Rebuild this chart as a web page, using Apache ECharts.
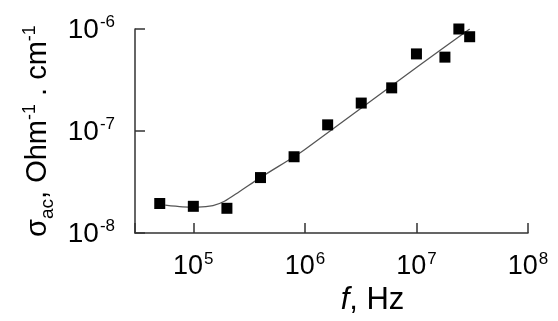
<!DOCTYPE html>
<html>
<head>
<meta charset="utf-8">
<script src="https://cdn.jsdelivr.net/npm/echarts@6/dist/echarts.min.js"></script>
<style>
  html, body { margin: 0; padding: 0; background: #fff; }
  #chart { width: 558px; height: 321px; }
</style>
</head>
<body>
<div id="chart"></div>
<script>
// measured points (f in Hz, sigma_ac in Ohm^-1 cm^-1)
const freqHz = [5e4, 1e5, 2e5, 4e5, 8e5, 1.6e6, 3.2e6, 6e6, 1e7, 1.8e7, 2.4e7, 3e7];
const sigmaAc = [1.95e-8, 1.83e-8, 1.75e-8, 3.5e-8, 5.6e-8, 1.15e-7, 1.88e-7, 2.65e-7, 5.7e-7, 5.3e-7, 1.0e-6, 8.4e-7];

// fitted curve
const fitFreq = [5.6e4, 8e4, 1.1e5, 1.5e5, 1.9e5, 2.6e5, 4e5, 8e5, 1e6, 1e7, 3e7];
const fitSigma = [1.88e-8, 1.81e-8, 1.8e-8, 1.86e-8, 2.05e-8, 2.56e-8, 3.5e-8, 5.6e-8, 6.6e-8, 4.2e-7, 1.0e-6];

const xMin = 3e4, xMax = 1e8;
const yMin = 1e-8, yMax = 1e-6;

const FONT = "'Liberation Sans', Arial, sans-serif";

const chart = echarts.init(document.getElementById("chart"));

// label "10" with superscript exponent, only on whole decades
const powLabel = (v) => {
  const lg = Math.log10(v);
  const e = Math.round(lg);
  if (Math.abs(lg - e) > 1e-6) return "";
  return "{b|10}{s|" + (e < 0 ? "-" + Math.abs(e) : e) + "}";
};

const labelRich = (size) => ({
  b: { fontSize: size, fontFamily: FONT, color: "#000", lineHeight: size + 2, verticalAlign: "bottom" },
  s: { fontSize: Math.round(size * 0.62), fontFamily: FONT, color: "#000", lineHeight: size + 2, verticalAlign: "top", padding: [0, 0, 0, 1] },
});

const axisCommon = {
  type: "log",
  logBase: 10,
  axisLine: { show: true, lineStyle: { color: "#333", width: 1.5 } },
  axisTick: { show: true, inside: true, length: 10, lineStyle: { color: "#333", width: 1.5 } },
  minorTick: { show: false },
  splitLine: { show: false },
};

const option = {
  backgroundColor: "#fff",
  animation: false,
  grid: { left: 135, right: 30, top: 29, bottom: 86 },
  xAxis: {
    ...axisCommon,
    min: xMin,
    max: xMax,
    axisLabel: { formatter: powLabel, margin: 18, rich: labelRich(27) },
    name: "{i|f}{t|, Hz}",
    nameLocation: "middle",
    nameGap: 46,
    nameTextStyle: {
      padding: [0, 0, 0, 82],
      rich: {
        i: { fontSize: 31, fontStyle: "italic", fontFamily: FONT, color: "#000" },
        t: { fontSize: 31, fontFamily: FONT, color: "#000" },
      },
    },
  },
  yAxis: {
    ...axisCommon,
    min: yMin,
    max: yMax,
    axisLabel: { formatter: powLabel, margin: 20, rich: labelRich(28) },
    name: "{t|σ}{sub|ac}{t|, Ohm}{sup|-1}{t| . cm}{sup|-1}",
    nameLocation: "middle",
    nameRotate: 90,
    nameGap: 80,
    nameTextStyle: {
      rich: {
        t: { fontSize: 29, fontFamily: FONT, color: "#000", lineHeight: 32, verticalAlign: "bottom" },
        sub: { fontSize: 19, fontFamily: FONT, color: "#000", lineHeight: 32, verticalAlign: "bottom", padding: [0, 0, -4, 0] },
        sup: { fontSize: 18, fontFamily: FONT, color: "#000", lineHeight: 32, verticalAlign: "top" },
      },
    },
  },
  series: [
    {
      name: "fit",
      type: "line",
      data: fitFreq.map((f, i) => [f, fitSigma[i]]),
      smooth: 0.3,
      showSymbol: false,
      symbol: "none",
      lineStyle: { color: "#555", width: 1.3 },
      z: 1,
    },
    {
      name: "sigma",
      type: "scatter",
      data: freqHz.map((f, i) => [f, sigmaAc[i]]),
      symbol: "rect",
      symbolSize: 11,
      itemStyle: { color: "#000", opacity: 1 },
      z: 2,
    },
  ],
};

chart.setOption(option);

window.addEventListener("resize", () => {
  chart.resize();
});
</script>
</body>
</html>
